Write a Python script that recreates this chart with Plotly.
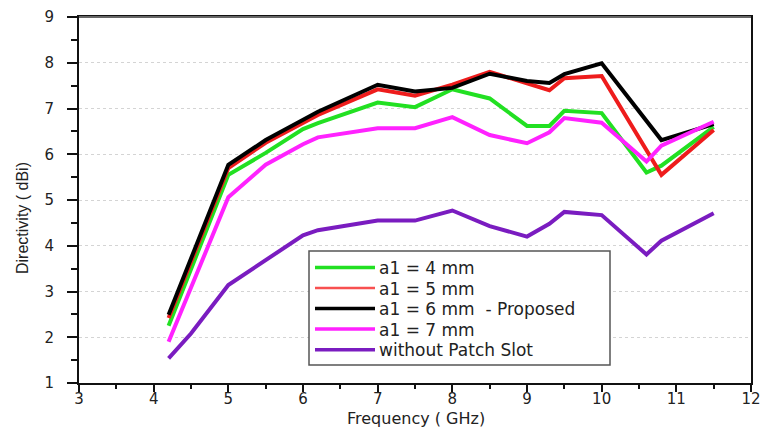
import plotly.graph_objects as go

freq = [4.2, 4.5, 5.0, 5.5, 6.0, 6.2, 7.0, 7.5, 8.0, 8.5, 9.0, 9.3, 9.5, 10.0, 10.6, 10.8, 11.5]

a1_4mm = [2.25, None, 5.55, 6.03, 6.55, 6.68, 7.13, 7.03, 7.42, 7.22, 6.62, 6.62, 6.95, 6.90, 5.60, 5.75, 6.60]
a1_5mm = [2.42, None, 5.70, 6.25, 6.68, 6.86, 7.42, 7.28, 7.52, 7.80, 7.55, 7.40, 7.66, 7.71, None, 5.55, 6.53]
a1_6mm = [2.49, None, 5.77, 6.31, 6.75, 6.93, 7.52, 7.37, 7.45, 7.76, 7.60, 7.56, 7.75, 7.99, None, 6.31, 6.66]
a1_7mm = [1.90, None, 5.06, 5.77, 6.22, 6.37, 6.57, 6.57, 6.81, 6.42, 6.24, 6.48, 6.79, 6.69, 5.84, 6.19, 6.71]
no_slot = [1.54, 2.08, 3.14, 3.69, 4.23, 4.34, 4.55, 4.55, 4.77, 4.43, 4.20, 4.48, 4.74, 4.67, 3.81, 4.11, 4.71]

names = ["a1 = 4 mm", "a1 = 5 mm", "a1 = 6 mm\u00a0\u00a0- Proposed", "a1 = 7 mm", "without Patch Slot"]
series = [a1_4mm, a1_5mm, a1_6mm, a1_7mm, no_slot]
colors = ["#22e022", "#ee1c1c", "#000000", "#ff22ff", "#7a1cc0"]
legend_colors = ["#22e022", "#f85050", "#000000", "#ff22ff", "#7a1cc0"]
legend_widths = [3.5, 2.5, 3.5, 3.5, 3.5]

x_ticks = list(range(3, 13))
y_ticks = list(range(1, 10))

W, H = 764, 428
L, R, T, B = 79, 13, 17, 45
PW, PH = W - L - R, H - T - B


def px(xp):
    return (xp - L) / PW


def py(yp):
    return (H - B - yp) / PH


fig = go.Figure()
for name, ys, c in zip(names, series, colors):
    xs = [f for f, v in zip(freq, ys) if v is not None]
    vs = [v for v in ys if v is not None]
    fig.add_trace(go.Scatter(x=xs, y=vs, mode="lines", name=name, showlegend=False,
                             line=dict(color=c, width=4)))

tick_font = dict(family="DejaVu Sans", size=15, color="#222")

fig.update_layout(
    width=W, height=H,
    margin=dict(l=L, r=R, t=T, b=B),
    plot_bgcolor="white", paper_bgcolor="white",
    font=dict(family="DejaVu Sans", size=15, color="#222"),
    showlegend=False,
    xaxis=dict(range=[3, 12], tickvals=x_ticks, showgrid=False, zeroline=False,
               showline=True, linecolor="#111", linewidth=2, mirror=True,
               ticks="outside", ticklen=7, tickwidth=1.5, tickcolor="#111",
               minor=dict(dtick=0.5, ticks="outside", ticklen=4, tickwidth=1.5, tickcolor="#111"),
               tickfont=tick_font, automargin=False, ticklabelstandoff=-6),
    yaxis=dict(range=[1, 9], tickvals=y_ticks, showgrid=True, gridcolor="#d4d4d4",
               griddash="dot", gridwidth=1, zeroline=False,
               showline=True, linecolor="#111", linewidth=2, mirror=True,
               ticks="outside", ticklen=10, tickwidth=1.5, tickcolor="#111",
               minor=dict(dtick=0.5, ticks="outside", ticklen=6, tickwidth=1.5, tickcolor="#111", showgrid=False),
               tickfont=tick_font, automargin=False, ticklabelstandoff=10),
)

# top frame line drawn in grey as in the original
fig.add_shape(type="line", xref="paper", yref="paper", x0=0, x1=1, y0=1, y1=1,
              line=dict(color="#666", width=2))

# axis titles
fig.add_annotation(text="Frequency ( GHz)", xref="paper", yref="paper",
                   x=px(416), y=py(418.5), xanchor="center", yanchor="middle",
                   showarrow=False, borderpad=0,
                   font=dict(family="DejaVu Sans", size=16, color="#222"))
fig.add_annotation(text="Directivity ( dBi)", xref="paper", yref="paper",
                   x=px(22.5), y=py(217.5), xanchor="center", yanchor="middle", textangle=-90,
                   showarrow=False, font=dict(family="Liberation Sans", size=16, color="#222"))

# legend box
fig.add_shape(type="rect", xref="paper", yref="paper",
              x0=px(309), x1=px(610), y0=py(365), y1=py(251),
              line=dict(color="#555", width=1.5), fillcolor="white", layer="above")
rows = [267.5, 288.0, 308.5, 329.0, 349.8]
for name, c, w, r in zip(names, legend_colors, legend_widths, rows):
    fig.add_shape(type="line", xref="paper", yref="paper",
                  x0=px(315), x1=px(375), y0=py(r), y1=py(r),
                  line=dict(color=c, width=w), layer="above")
    fig.add_annotation(text=name, xref="paper", yref="paper",
                       x=px(377), y=py(r + 0.5), xanchor="left", yanchor="middle",
                       showarrow=False, font=dict(family="DejaVu Sans", size=17, color="#222"))

fig.write_html("out.html")
